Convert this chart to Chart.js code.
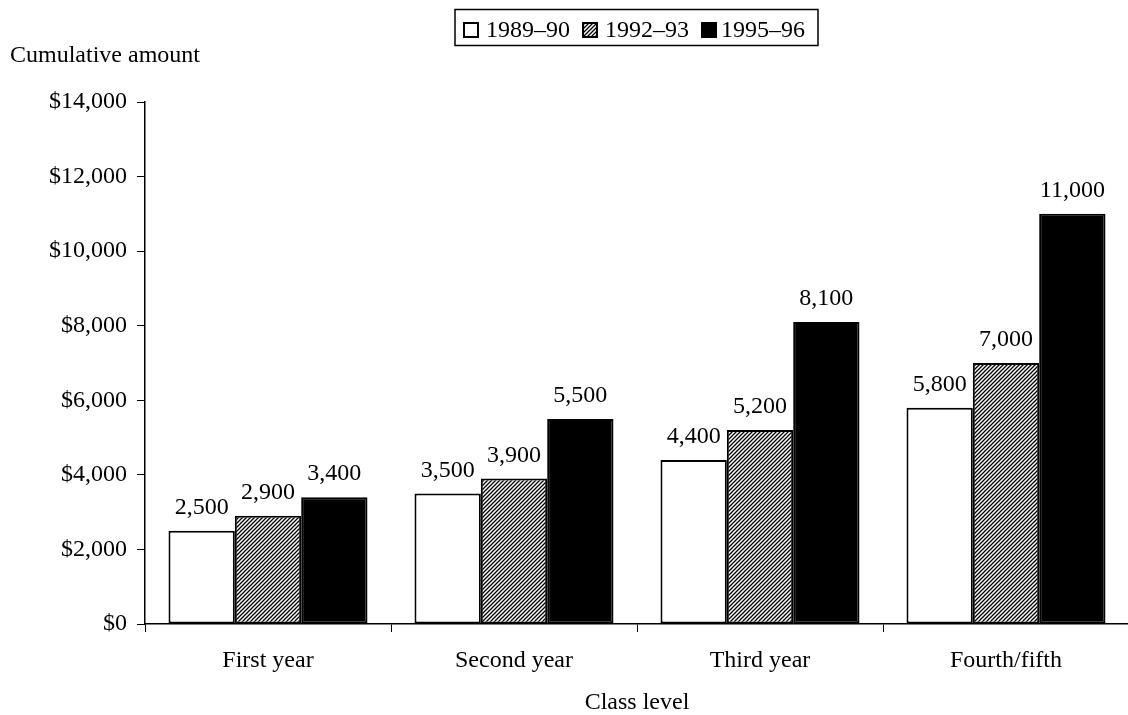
<!DOCTYPE html>
<html>
<head>
<meta charset="utf-8">
<title>Cumulative amount by class level</title>
<script src="https://cdn.jsdelivr.net/npm/chart.js@4/dist/chart.umd.min.js"></script>
<style>
  html, body { margin: 0; padding: 0; background: #ffffff; overflow: hidden; }
  canvas { display: block; }
</style>
</head>
<body>
<canvas id="chart" width="1130" height="715"></canvas>
<script>
// Class levels along the x axis
const categories = ['First year', 'Second year', 'Third year', 'Fourth/fifth'];
// Cumulative amounts per academic year
const seriesNames = ['1989\u201390', '1992\u201393', '1995\u201396'];
const values1989 = [2500, 3500, 4400, 5800];
const values1992 = [2900, 3900, 5200, 7000];
const values1995 = [3400, 5500, 8100, 11000];
// Axis range
const yMin = 0;
const yMax = 14000;
const yStep = 2000;
const yAxisTitle = 'Cumulative amount';
const xAxisTitle = 'Class level';

const FONT = "'Liberation Serif', 'Times New Roman', serif";
const FS = 24;

// Diagonal hatch fill for the middle series
function makeHatch() {
  const s = 4;
  const c = document.createElement('canvas');
  c.width = s; c.height = s;
  const g = c.getContext('2d');
  g.fillStyle = '#ffffff';
  g.fillRect(0, 0, s, s);
  g.strokeStyle = '#000000';
  g.lineWidth = 1.3;
  g.beginPath();
  g.moveTo(0, s); g.lineTo(s, 0);
  g.moveTo(-1, 1); g.lineTo(1, -1);
  g.moveTo(s - 1, s + 1); g.lineTo(s + 1, s - 1);
  g.stroke();
  return g.createPattern(c, 'repeat');
}

const ctx = document.getElementById('chart').getContext('2d');
const hatch = makeHatch();

// Value labels above each bar, the legend box and the y-axis caption
const annotate = {
  id: 'annotate',
  afterDatasetsDraw(chart) {
    const c = chart.ctx;
    c.save();
    c.fillStyle = '#000';
    c.font = FS + 'px ' + FONT;
    c.textAlign = 'center';
    c.textBaseline = 'alphabetic';
    chart.data.datasets.forEach((ds, di) => {
      const meta = chart.getDatasetMeta(di);
      meta.data.forEach((bar, i) => {
        c.fillText(ds.data[i].toLocaleString('en-US'), bar.x, bar.y - 17);
      });
    });
    c.restore();
  },
  afterDraw(chart) {
    const c = chart.ctx;
    c.save();
    // y-axis caption
    c.fillStyle = '#000';
    c.font = FS + 'px ' + FONT;
    c.textAlign = 'left';
    c.textBaseline = 'alphabetic';
    c.fillText(yAxisTitle, 10, 62);

    // legend frame
    c.strokeStyle = '#000';
    c.lineWidth = 1.5;
    c.strokeRect(455, 9.5, 363, 36);

    const items = [
      { sw: 464, tx: 486 },
      { sw: 583, tx: 605 },
      { sw: 702, tx: 721 }
    ];
    chart.data.datasets.forEach((ds, i) => {
      const it = items[i];
      c.fillStyle = ds.backgroundColor;
      c.fillRect(it.sw, 23, 14, 14);
      c.lineWidth = 2;
      c.strokeStyle = '#000';
      c.strokeRect(it.sw, 23, 14, 14);
      c.fillStyle = '#000';
      c.fillText(ds.label, it.tx, 37);
    });
    c.restore();
  }
};

new Chart(ctx, {
  type: 'bar',
  data: {
    labels: categories,
    datasets: [
      { label: seriesNames[0], data: values1989, backgroundColor: '#ffffff', borderColor: '#000000', borderWidth: 2, borderSkipped: false },
      { label: seriesNames[1], data: values1992, backgroundColor: hatch, borderColor: '#000000', borderWidth: 2, borderSkipped: false },
      { label: seriesNames[2], data: values1995, backgroundColor: '#000000', borderColor: '#000000', borderWidth: 2, borderSkipped: false }
    ]
  },
  options: {
    responsive: false,
    animation: false,
    devicePixelRatio: 1,
    layout: { padding: { top: 102, right: 1, bottom: 0, left: 0 } },
    datasets: {
      bar: { categoryPercentage: 0.809, barPercentage: 1.0 }
    },
    plugins: {
      legend: { display: false },
      tooltip: { enabled: false },
      title: { display: false }
    },
    scales: {
      x: {
        grid: {
          display: true,
          offset: true,
          drawOnChartArea: false,
          drawTicks: true,
          tickLength: 8,
          color: '#000000',
          lineWidth: 1
        },
        border: { display: true, color: '#000000', width: 1.5 },
        ticks: {
          color: '#000000',
          padding: 14,
          font: { family: FONT, size: FS }
        },
        title: {
          display: true,
          text: xAxisTitle,
          color: '#000000',
          font: { family: FONT, size: FS, lineHeight: 1 },
          padding: { top: 0, bottom: 0 }
        },
        afterFit(scale) { scale.height = 91; }
      },
      y: {
        min: yMin,
        max: yMax,
        grid: {
          display: true,
          drawOnChartArea: false,
          drawTicks: true,
          tickLength: 8,
          color: '#000000',
          lineWidth: 1
        },
        border: { display: true, color: '#000000', width: 1.5 },
        ticks: {
          stepSize: yStep,
          color: '#000000',
          padding: 10,
          font: { family: FONT, size: FS },
          callback: (v) => '$' + Number(v).toLocaleString('en-US')
        },
        afterFit(scale) { scale.width = 145; }
      }
    }
  },
  plugins: [annotate]
});
</script>
</body>
</html>
